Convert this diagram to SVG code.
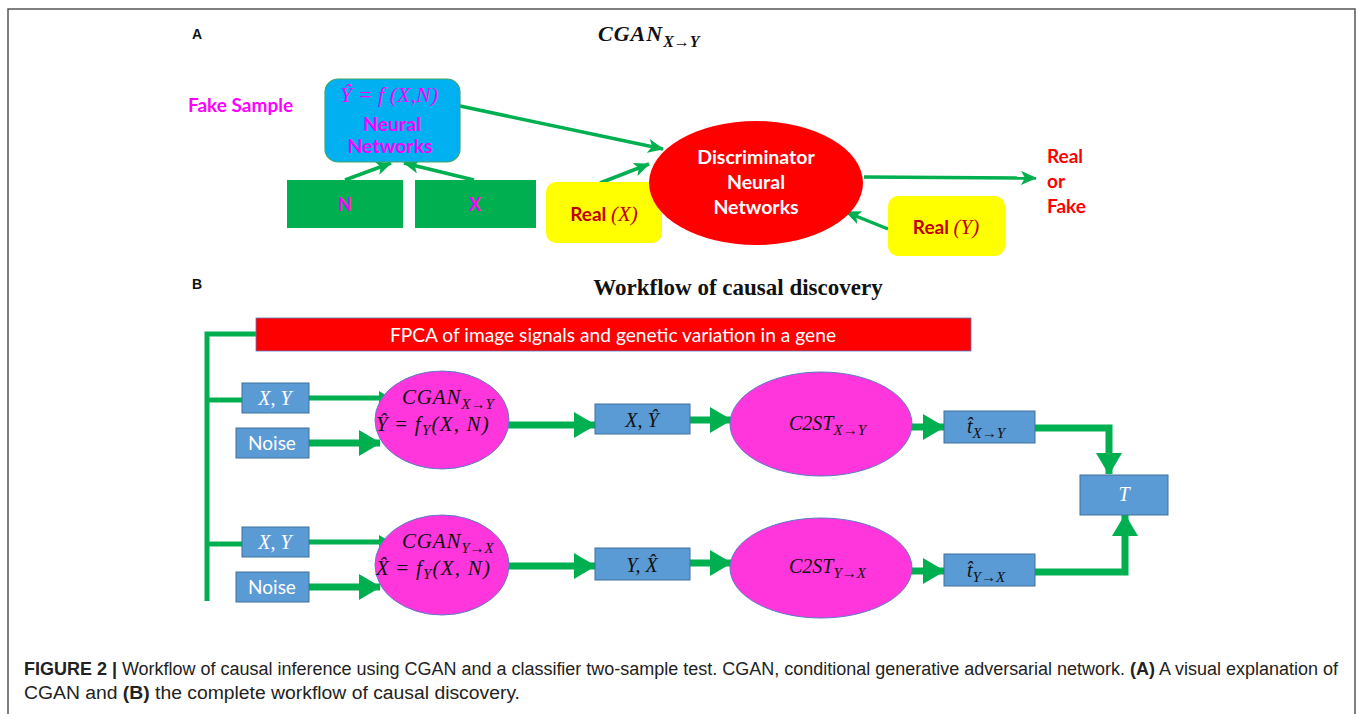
<svg xmlns="http://www.w3.org/2000/svg" width="1358" height="714" viewBox="0 0 1358 714">
<defs>
<style>
.frame{fill:none;stroke:#555;stroke-width:1.5}
.lbl{font-family:"Liberation Sans",Arial,sans-serif;font-weight:bold;font-size:14px;fill:#111}
.cal{font-family:Lato,"Open Sans",sans-serif;font-weight:bold}
.math{font-family:"Liberation Serif","DejaVu Serif",serif;font-style:italic}
.ga{stroke:#00B050;stroke-width:3.5;fill:none}
.gb{stroke:#00B050;stroke-width:7;fill:none}
.gt{stroke:#00B050;stroke-width:5;fill:none}
.bbox{fill:#5B9BD5;stroke:#41719C;stroke-width:1}
.pel{fill:#FF36DC;stroke:#5B7BC8;stroke-width:1}
.cap{font-family:"Liberation Sans",Arial,sans-serif;font-size:18px;fill:#222}
</style>
<marker id="ha" markerUnits="userSpaceOnUse" markerWidth="16" markerHeight="14" refX="15" refY="7" orient="auto" viewBox="0 0 16 14"><path d="M0,0 L16,7 L0,14 L4,7 z" fill="#00B050"/></marker>
<marker id="hb" markerUnits="userSpaceOnUse" markerWidth="22" markerHeight="26" refX="21" refY="13" orient="auto" viewBox="0 0 22 26"><path d="M0,0 L22,13 L0,26 z" fill="#00B050"/></marker>
<marker id="hs" markerUnits="userSpaceOnUse" markerWidth="12" markerHeight="14" refX="11" refY="7" orient="auto" viewBox="0 0 12 14"><path d="M0,0 L12,7 L0,14 z" fill="#00B050"/></marker>
</defs>
<rect width="1358" height="714" fill="#fff"/>
<rect class="frame" x="8" y="9" width="1347" height="720"/>

<!-- Panel A -->
<text class="lbl" x="192" y="39">A</text>
<text class="math" font-weight="bold" x="598" y="41" font-size="22" letter-spacing="1" fill="#111">CGAN<tspan font-size="16" dy="6" letter-spacing="0">X→Y</tspan></text>
<text class="cal" x="188" y="112" font-size="19" fill="#FF00FF">Fake Sample</text>

<g id="connectors">
<line class="ga" x1="460" y1="106" x2="663" y2="149" marker-end="url(#ha)"/>
<line class="ga" x1="345" y1="180" x2="391" y2="163" marker-end="url(#ha)"/>
<line class="ga" x1="474" y1="180" x2="404" y2="163" marker-end="url(#ha)"/>
<line class="ga" x1="600" y1="183" x2="649" y2="164" marker-end="url(#ha)"/>
<line class="ga" x1="864" y1="177" x2="1036" y2="178" marker-end="url(#ha)"/>
<line class="ga" x1="888" y1="229" x2="846" y2="212" marker-end="url(#ha)"/>

<!-- Panel B -->
<polyline class="gt" points="256,334 207,334 207,601"/>
<line class="gt" x1="207" y1="400" x2="242" y2="400"/>
<line class="gt" x1="207" y1="544" x2="242" y2="544"/>
<line class="gt" x1="309" y1="398" x2="390" y2="398" marker-end="url(#hs)"/>
<line class="gb" x1="309" y1="443" x2="380" y2="443" marker-end="url(#hb)"/>
<line class="gb" x1="505" y1="425" x2="595" y2="425" marker-end="url(#hb)"/>
<line class="gb" x1="690" y1="420" x2="731" y2="420" marker-end="url(#hb)"/>
<line class="gb" x1="908" y1="427" x2="944" y2="427" marker-end="url(#hb)"/>
<polyline class="gb" points="1035,428 1109,428 1109,474" marker-end="url(#hb)"/>
<line class="gt" x1="309" y1="542" x2="390" y2="542" marker-end="url(#hs)"/>
<line class="gb" x1="309" y1="587" x2="380" y2="587" marker-end="url(#hb)"/>
<line class="gb" x1="505" y1="566" x2="595" y2="566" marker-end="url(#hb)"/>
<line class="gb" x1="690" y1="563" x2="731" y2="563" marker-end="url(#hb)"/>
<line class="gb" x1="908" y1="571" x2="944" y2="571" marker-end="url(#hb)"/>
<polyline class="gb" points="1035,572 1125,572 1125,515" marker-end="url(#hb)"/>
</g>

<g id="generator">
<rect x="325" y="79" width="135" height="83" rx="13" fill="#00B0F0" stroke="#3FA86A" stroke-width="1.2"/>
<text class="math" x="389" y="102" font-size="22" text-anchor="middle" fill="#FF00FF">Ŷ = f (X,N)</text>
<text class="cal" x="392" y="131" font-size="19.5" text-anchor="middle" fill="#FF00FF">Neural</text>
<text class="cal" x="390" y="153" font-size="19.5" text-anchor="middle" fill="#FF00FF">Networks</text>
</g>
<g id="nodeN">
<rect x="287" y="180" width="116" height="48" fill="#00B050"/>
<text class="cal" x="345" y="211" font-size="18" text-anchor="middle" fill="#FF00FF">N</text>
</g>
<g id="nodeX">
<rect x="415" y="180" width="121" height="48" fill="#00B050"/>
<text class="cal" x="475" y="211" font-size="18" text-anchor="middle" fill="#FF00FF">X</text>
</g>
<g id="realX">
<rect x="546" y="182" width="116" height="61" rx="10" fill="#FFFF00"/>
<text x="604" y="221" font-size="19" text-anchor="middle" fill="#C00000"><tspan class="cal">Real </tspan><tspan class="math" font-size="21">(X)</tspan></text>
</g>
<g id="discriminator">
<ellipse cx="756" cy="183" rx="107" ry="62" fill="#FF0000"/>
<text class="cal" x="756" y="164" font-size="19.5" text-anchor="middle" fill="#fff">Discriminator</text>
<text class="cal" x="756" y="189" font-size="19.5" text-anchor="middle" fill="#fff">Neural</text>
<text class="cal" x="756" y="214" font-size="19.5" text-anchor="middle" fill="#fff">Networks</text>
</g>
<g id="realY">
<rect x="888" y="196" width="117" height="60" rx="10" fill="#FFFF00"/>
<text x="946" y="234" font-size="19" text-anchor="middle" fill="#C00000"><tspan class="cal">Real </tspan><tspan class="math" font-size="21">(Y)</tspan></text>
</g>
<g id="output">
<text class="cal" x="1047" y="163" font-size="19" fill="#FF0000">Real</text>
<text class="cal" x="1047" y="188" font-size="19" fill="#FF0000">or</text>
<text class="cal" x="1047" y="213" font-size="19" fill="#FF0000">Fake</text>
</g>

<!-- Panel B -->
<text class="lbl" x="192" y="289">B</text>
<text x="738" y="295" font-family="'Liberation Serif',serif" font-weight="bold" font-size="23" text-anchor="middle" fill="#111">Workflow of causal discovery</text>

<g id="fpca">
<rect x="256" y="318" width="715" height="33" fill="#FF0000" stroke="#5B7BC8" stroke-width="0.8"/>
<text x="613" y="342" font-family="Lato,'Open Sans',sans-serif" font-size="19.2" text-anchor="middle" fill="#fff">FPCA of image signals and genetic variation in a gene</text>
</g>

<g id="xy1">
<rect class="bbox" x="242" y="383" width="67" height="30"/>
<text class="math" x="275" y="405" font-size="20" text-anchor="middle" fill="#fff">X, Y</text>
</g>
<g id="noise1">
<rect class="bbox" x="236" y="428" width="73" height="30"/>
<text x="272" y="450" font-family="Lato,'Open Sans',sans-serif" font-size="19" text-anchor="middle" fill="#fff">Noise</text>
</g>
<g id="cgan1">
<ellipse class="pel" cx="442" cy="420" rx="67" ry="49"/>
<text class="math" x="402" y="404" font-size="21" letter-spacing="0.8" fill="#111">CGAN<tspan font-size="15" dy="5" letter-spacing="0">X→Y</tspan></text>
<text class="math" x="376" y="431" font-size="21" letter-spacing="1.2" fill="#111">Ŷ <tspan font-style="normal">=</tspan> f<tspan font-size="15" dy="4">Y</tspan><tspan dy="-4">(X, N)</tspan></text>
</g>
<g id="xyhat">
<rect class="bbox" x="595" y="404" width="95" height="30"/>
<text class="math" x="642" y="427" font-size="20" text-anchor="middle" fill="#111">X, Ŷ</text>
</g>
<g id="c2st1">
<ellipse class="pel" cx="821" cy="424" rx="91" ry="52"/>
<text class="math" x="789" y="430" font-size="20" fill="#111">C2ST<tspan font-size="15" dy="5">X→Y</tspan></text>
</g>
<g id="t1">
<rect class="bbox" x="944" y="411" width="91" height="32"/>
<text class="math" x="967" y="433" font-size="20" fill="#111">t̂<tspan font-size="15" dy="5">X→Y</tspan></text>
</g>
<g id="T">
<rect class="bbox" x="1080" y="475" width="88" height="40"/>
<text class="math" x="1124" y="501" font-size="20" text-anchor="middle" fill="#fff">T</text>
</g>

<g id="xy2">
<rect class="bbox" x="242" y="527" width="67" height="30"/>
<text class="math" x="275" y="549" font-size="20" text-anchor="middle" fill="#fff">X, Y</text>
</g>
<g id="noise2">
<rect class="bbox" x="236" y="572" width="73" height="30"/>
<text x="272" y="594" font-family="Lato,'Open Sans',sans-serif" font-size="19" text-anchor="middle" fill="#fff">Noise</text>
</g>
<g id="cgan2">
<ellipse class="pel" cx="442" cy="565" rx="67" ry="50"/>
<text class="math" x="402" y="548" font-size="21" letter-spacing="0.8" fill="#111">CGAN<tspan font-size="15" dy="5" letter-spacing="0">Y→X</tspan></text>
<text class="math" x="376" y="575" font-size="21" letter-spacing="1.2" fill="#111">X̂ <tspan font-style="normal">=</tspan> f<tspan font-size="15" dy="4">Y</tspan><tspan dy="-4">(X, N)</tspan></text>
</g>
<g id="yxhat">
<rect class="bbox" x="595" y="548" width="95" height="32"/>
<text class="math" x="642" y="572" font-size="20" text-anchor="middle" fill="#111">Y, X̂</text>
</g>
<g id="c2st2">
<ellipse class="pel" cx="821" cy="568" rx="91" ry="50"/>
<text class="math" x="789" y="573" font-size="20" fill="#111">C2ST<tspan font-size="15" dy="5">Y→X</tspan></text>
</g>
<g id="t2">
<rect class="bbox" x="944" y="554" width="91" height="32"/>
<text class="math" x="967" y="577" font-size="20" fill="#111">t̂<tspan font-size="15" dy="5">Y→X</tspan></text>
</g>

<g id="caption">
<text class="cap" x="24" y="675" textLength="1314" lengthAdjust="spacingAndGlyphs"><tspan font-weight="bold">FIGURE 2 |</tspan> Workflow of causal inference using CGAN and a classifier two-sample test. CGAN, conditional generative adversarial network. <tspan font-weight="bold">(A)</tspan> A visual explanation of</text>
<text class="cap" x="24" y="699" textLength="496" lengthAdjust="spacingAndGlyphs">CGAN and <tspan font-weight="bold">(B)</tspan> the complete workflow of causal discovery.</text>
</g>
</svg>
